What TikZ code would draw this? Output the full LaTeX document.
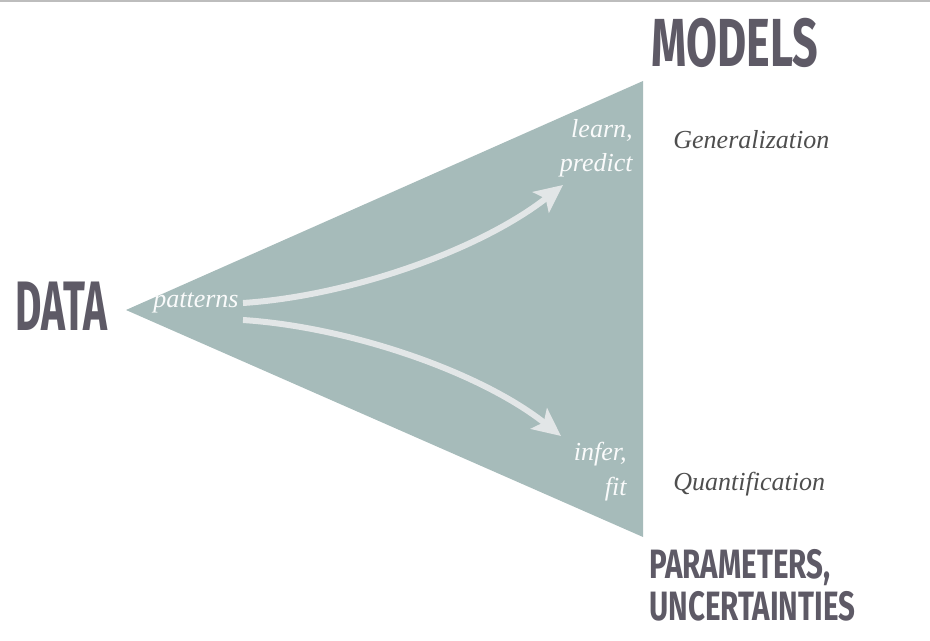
\documentclass[tikz,border=0pt]{standalone}
\usepackage{fontspec}
\setmainfont{Liberation Serif}
\newfontfamily\headfont[FakeStretch=0.66]{Fira Sans}
\newfontfamily\headnarrow[FakeStretch=0.58]{Fira Sans}
\newfontfamily\headwide[FakeStretch=0.72]{Fira Sans}
\usetikzlibrary{arrows.meta}
\definecolor{wedge}{HTML}{A6BBBA}
\definecolor{headgray}{HTML}{5E5A66}
\definecolor{notegray}{HTML}{4E4E4E}
\definecolor{arrowgray}{HTML}{E2E6E7}
\definecolor{rulegray}{HTML}{BDBDBD}
\tikzset{
  heading/.style={text=headgray, inner sep=0pt},
  inlabel/.style={font=\itshape\fontsize{13}{16}\selectfont, text=white!94!wedge, inner sep=0pt},
  sidenote/.style={font=\itshape\fontsize{13}{16}\selectfont, text=notegray, inner sep=0pt},
  flow/.style={draw=arrowgray, line width=3pt,
    -{Stealth[length=14pt, width=13pt, inset=3pt]}},
}
\begin{document}
\begin{tikzpicture}[x=0.5pt, y=-0.5pt]
  \useasboundingbox (0,0) rectangle (930,641);
  % thin rule along the top edge
  \draw[rulegray, line width=1pt] (0,0.8) -- (930,0.8);

  % the wedge opening from data towards models and parameters
  \coordinate (tip) at (126,310);
  \coordinate (top) at (643,81);
  \coordinate (bot) at (643,537);
  \fill[wedge] (tip) -- (top) -- (bot) -- cycle;

  % headings
  \node[heading, anchor=base west, font=\headnarrow\bfseries\fontsize{35}{38}\selectfont] (data) at (15,330) {DATA};
  \node[heading, anchor=base west, font=\headfont\bfseries\fontsize{34}{38}\selectfont] (models) at (651,67) {MODELS};
  \node[heading, anchor=base west, font=\headwide\bfseries\fontsize{20.5}{22}\selectfont] (params) at (649,578) {PARAMETERS,};
  \node[heading, anchor=base west, font=\headwide\bfseries\fontsize{20.5}{22}\selectfont] (uncert) at (649,620) {UNCERTAINTIES};

  % labels inside the wedge
  \node[inlabel, anchor=base east] (patterns) at (239,307) {patterns};
  \node[inlabel, anchor=base east] (learn) at (633,138) {learn,};
  \node[inlabel, anchor=base east] (predict) at (633,172) {predict};
  \node[inlabel, anchor=base east] (infer) at (627,460) {infer,};
  \node[inlabel, anchor=base east] (fit) at (627,495) {fit};

  % side notes
  \node[sidenote, anchor=base west] (gen) at (673,149) {Generalization};
  \node[sidenote, anchor=base west] (quant) at (673,490) {Quantification};

  % flow arrows
  \coordinate (upstart) at (243,303);
  \coordinate (upend) at (563,185);
  \coordinate (downstart) at (243,320);
  \coordinate (downend) at (561,436);
  \draw[flow] (upstart) .. controls (350,296) and (480,250) .. (upend);
  \draw[flow] (downstart) .. controls (350,327) and (480,372) .. (downend);
\end{tikzpicture}
\end{document}
